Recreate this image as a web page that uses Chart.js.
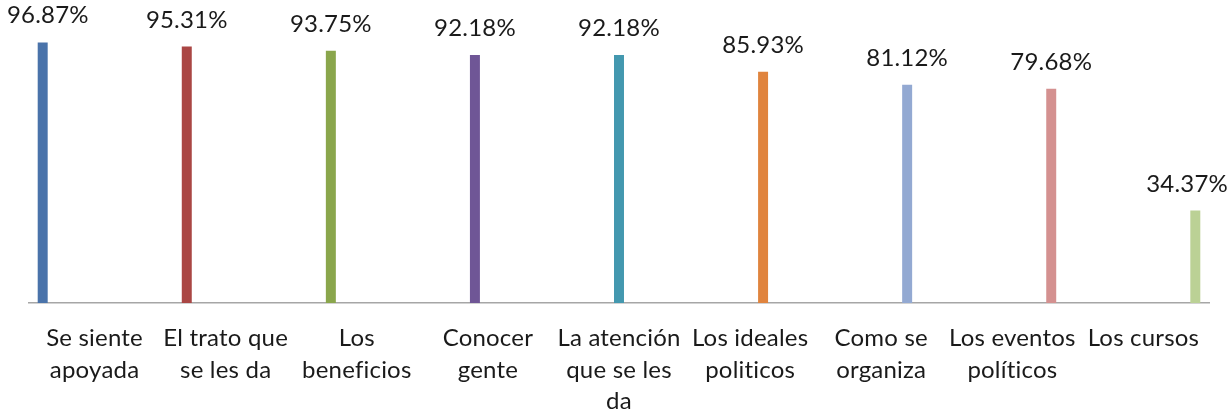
<!DOCTYPE html>
<html>
<head>
<meta charset="utf-8">
<script src="https://cdn.jsdelivr.net/npm/chart.js@4"></script>
<style>
  html, body { margin: 0; padding: 0; background: #fff; }
  #wrap { width: 1229px; height: 413px; }
</style>
</head>
<body>
<div id="wrap"><canvas id="chart"></canvas></div>
<script>
const categories = [
  ['Se siente', 'apoyada'],
  ['El trato que', 'se les da'],
  ['Los', 'beneficios'],
  ['Conocer', 'gente'],
  ['La atención', 'que se les', 'da'],
  ['Los ideales', 'politicos'],
  ['Como se', 'organiza'],
  ['Los eventos', 'políticos'],
  ['Los cursos']
];
const values = [96.87, 95.31, 93.75, 92.18, 92.18, 85.93, 81.12, 79.68, 34.37];
const barColors = ['#4A73AA', '#AA4644', '#8AA64C', '#6F5696', '#4398AF', '#E0843E', '#93A9D2', '#D49190', '#BBD195'];

// one dataset per bar, like the excel chart (each bar shifts inside its slot)
const datasets = values.map((v, i) => ({
  label: categories[i].join(' '),
  data: values.map((_, j) => (j === i ? v : null)),
  backgroundColor: barColors[i],
  borderWidth: 0,
  categoryPercentage: 0.89,
  barPercentage: 0.77
}));

// no ligatures, excel does not use them
const noLigatures = {
  id: 'noLigatures',
  beforeDraw(chart) {
    chart.ctx.letterSpacing = '0.2px';
  }
};

const valueLabels = {
  id: 'valueLabels',
  afterDatasetsDraw(chart) {
    const ctx = chart.ctx;
    ctx.save();
    ctx.font = '24px Lato, "Open Sans", sans-serif';
    ctx.fillStyle = '#1a1a1a';
    ctx.textAlign = 'center';
    ctx.textBaseline = 'alphabetic';
    chart.data.datasets.forEach((ds, i) => {
      const bar = chart.getDatasetMeta(i).data[i];
      const txt = values[i].toFixed(2) + '%';
      const half = ctx.measureText(txt).width / 2;
      // keep label inside the canvas
      const x = Math.min(Math.max(bar.x, half + 7), chart.width - half - 1);
      ctx.fillText(txt, x, bar.y - 19);
    });
    ctx.restore();
  }
};

new Chart(document.getElementById('chart'), {
  type: 'bar',
  data: { labels: categories, datasets: datasets },
  options: {
    responsive: true,
    maintainAspectRatio: false,
    animation: false,
    layout: { padding: { top: 34, left: 29, right: 20, bottom: 0 } },
    plugins: { legend: { display: false }, tooltip: { enabled: false } },
    scales: {
      x: {
        grid: { display: false, drawTicks: false },
        border: { display: true, color: '#A6A6A6', width: 1.5 },
        ticks: {
          color: '#1a1a1a',
          font: { family: 'Lato, "Open Sans", sans-serif', size: 24, lineHeight: 1.3 },
          padding: 20,
          maxRotation: 0,
          autoSkip: false
        },
        afterFit: (s) => { s.height = 110; }
      },
      y: { display: false, min: 0, max: 100 }
    }
  },
  plugins: [noLigatures, valueLabels]
});
</script>
</body>
</html>
